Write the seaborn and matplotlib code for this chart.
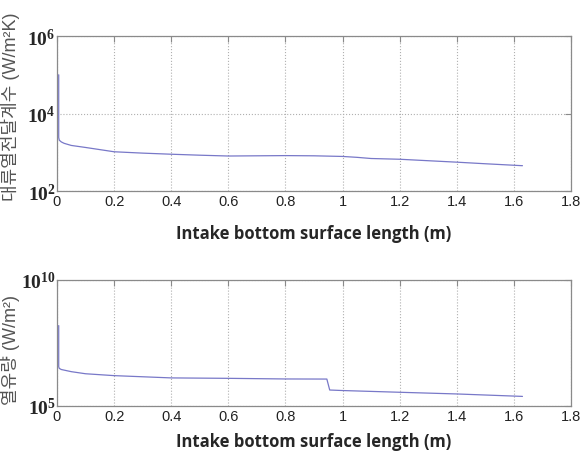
import numpy as np
import pandas as pd
import seaborn as sns
import matplotlib.pyplot as plt
import matplotlib.ticker as mticker

# convective heat transfer coefficient along the intake bottom
h_x = [0.006, 0.006, 0.008, 0.015, 0.025, 0.05, 0.1, 0.2, 0.3, 0.4, 0.5, 0.6, 0.7,
       0.8, 0.9, 1.0, 1.05, 1.1, 1.2, 1.3, 1.4, 1.5, 1.63]
h_val = [1.0e5, 2.4e3, 2.05e3, 1.85e3, 1.7e3, 1.5e3, 1.33e3, 1.03e3, 0.95e3,
         0.89e3, 0.84e3, 0.8e3, 0.81e3, 0.82e3, 0.81e3, 0.78e3, 0.74e3,
         0.69e3, 0.66e3, 0.605e3, 0.555e3, 0.505e3, 0.45e3]

# heat flux along the intake bottom
q_x = [0.006, 0.006, 0.008, 0.015, 0.05, 0.1, 0.2, 0.4, 0.6, 0.8, 0.945, 0.955,
       1.0, 1.2, 1.4, 1.63]
q_val = [1.55e8, 3.6e6, 3.1e6, 2.8e6, 2.3e6, 1.9e6, 1.6e6, 1.3e6, 1.25e6,
         1.18e6, 1.17e6, 4.3e5, 4.1e5, 3.5e5, 3.0e5, 2.4e5]

x_ticks = [0, 0.2, 0.4, 0.6, 0.8, 1, 1.2, 1.4, 1.6, 1.8]
x_ticklabels = ["0", "0.2", "0.4", "0.6", "0.8", "1", "1.2", "1.4", "1.6", "1.8"]
xlabel = "Intake bottom surface length (m)"

sns.set_style("white")
plt.rcParams['font.family'] = ['Liberation Sans', 'Noto Sans CJK KR', 'DejaVu Sans']
plt.rcParams['mathtext.fontset'] = 'custom'
plt.rcParams['mathtext.rm'] = 'Liberation Serif:bold'
plt.rcParams['mathtext.bf'] = 'Liberation Serif:bold'
plt.rcParams['mathtext.it'] = 'Liberation Serif:bold'

line_color = "#7878c8"
edge = "#8a8a8a"

fig = plt.figure(figsize=(5.81, 4.52), dpi=100)
ax1 = fig.add_axes([0.0981, 0.5752, 0.8847, 0.3429])
ax2 = fig.add_axes([0.0981, 0.0996, 0.8847, 0.2788])

df_h = pd.DataFrame({"x": h_x, "y": h_val})
df_q = pd.DataFrame({"x": q_x, "y": q_val})

sns.lineplot(data=df_h, x="x", y="y", sort=False, estimator=None,
             color=line_color, linewidth=0.9, ax=ax1)
sns.lineplot(data=df_q, x="x", y="y", sort=False, estimator=None,
             color=line_color, linewidth=0.9, ax=ax2)

setups = [
    (ax1, (1e2, 1e6), [1e2, 1e4, 1e6], [2, 4, 6],
     "대류열전달계수 (W/m²K)", 12, 0.55),
    (ax2, (1e5, 1e10), [1e5, 1e10], [5, 10],
     "열유량 (W/m²)", 7, 0.45),
]

for ax, ylim, yticks, exps, ylab, lpad, ly in setups:
    ax.set_yscale("log")
    ax.set_xlim(0, 1.8)
    ax.set_ylim(*ylim)
    ax.set_xticks(x_ticks)
    ax.set_xticklabels(x_ticklabels, fontsize=10.5, color="#222222")
    ax.set_yticks(yticks)
    ax.set_yticklabels([r"$\mathbf{10^{%d}}$" % e for e in exps], fontsize=14)
    ax.yaxis.set_minor_locator(mticker.NullLocator())
    ax.tick_params(direction="in", top=True, right=True, length=4,
                   color=edge)
    ax.tick_params(axis="x", pad=2)
    ax.tick_params(axis="y", pad=1)
    ax.grid(True, which="major", linestyle=":", color="#b0b0b0", linewidth=0.8)
    for s in ax.spines.values():
        s.set_color(edge)
        s.set_linewidth(0.9)
    ax.set_xlabel(xlabel, fontsize=12, fontweight="bold",
                  family=["Open Sans", "DejaVu Sans"], labelpad=lpad)
    ax.set_ylabel(ylab, fontsize=13, color="#555555")
    ax.yaxis.set_label_coords(-0.072, ly)

fig.savefig("out.png", dpi=100)
